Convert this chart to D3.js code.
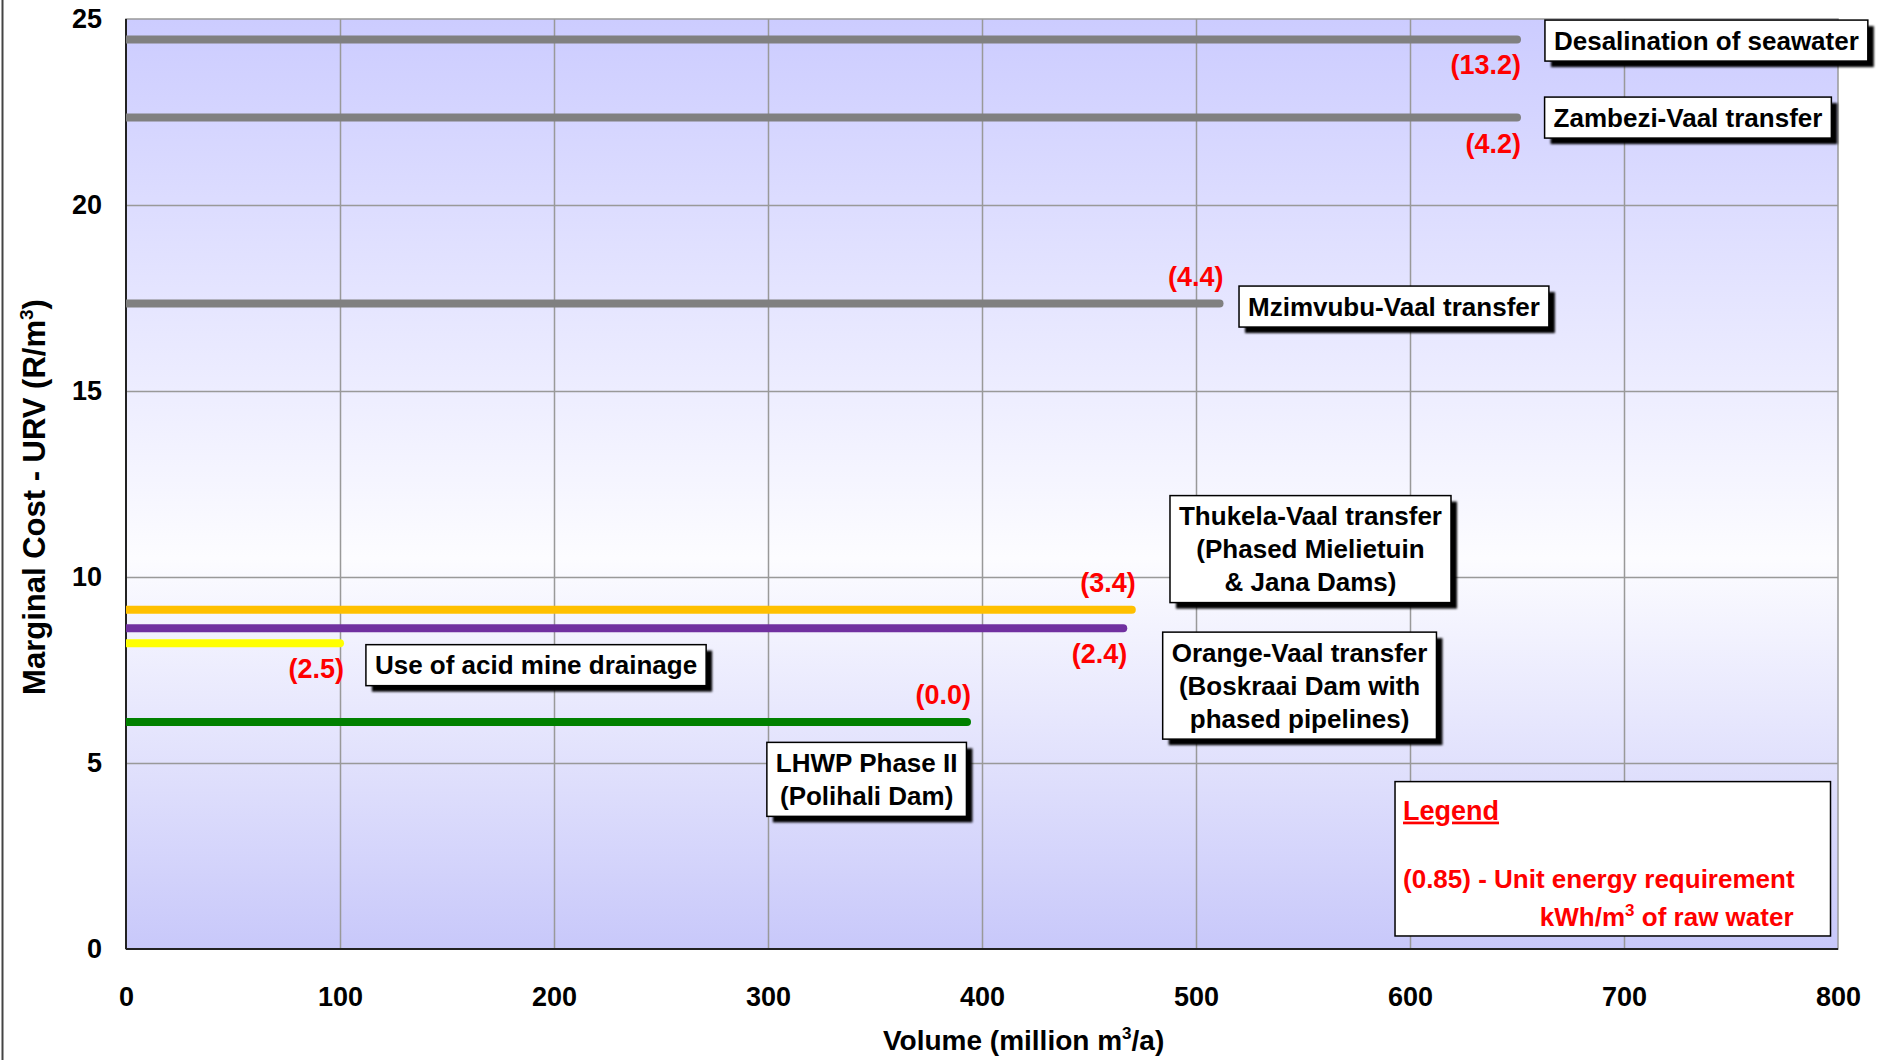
<!DOCTYPE html>
<html lang="en">
<head>
    <meta charset="utf-8"/>
    <title>Marginal cost of water supply options</title>
    <script src="https://d3js.org/d3.v7.min.js"></script>
    <style>
        body { margin: 0; background: #fff; }
        text { font-family: "Liberation Sans", Arial, sans-serif; font-weight: bold; }
        .tick line { stroke: #999; stroke-width: 1.5; }
    </style>
</head>
<body>
<svg id="chart" width="1880" height="1060"></svg>

<script type="text/javascript">

    // datos
    const schemes = [
        ["Desalination of seawater"],
        ["Zambezi-Vaal transfer"],
        ["Mzimvubu-Vaal transfer"],
        ["Thukela-Vaal transfer", "(Phased Mielietuin", "& Jana Dams)"],
        ["Orange-Vaal transfer", "(Boskraai Dam with", "phased pipelines)"],
        ["Use of acid mine drainage"],
        ["LHWP Phase II", "(Polihali Dam)"]
    ];
    const volumes = [650, 650, 511, 470, 466, 100, 393];          // million m3/a
    const costs = [24.45, 22.35, 17.35, 9.12, 8.62, 8.22, 6.1];      // R/m3
    const energy = ["(13.2)", "(4.2)", "(4.4)", "(3.4)", "(2.4)", "(2.5)", "(0.0)"];
    const colors = ["#808080", "#808080", "#808080", "#ffc000", "#7030a0", "#ffff00", "#008000"];

    const xTicks = [0, 100, 200, 300, 400, 500, 600, 700, 800];
    const yTicks = [0, 5, 10, 15, 20, 25];

    // donde van las cajas de texto (en unidades del grafico)
    const boxAt = [[738.5, 24.42], [729.9, 22.35], [592.5, 17.27], [553.5, 10.75],
                   [548.4, 7.08], [191.6, 7.63], [346.1, 4.56]];
    const energyBelow = [true, true, false, false, true, true, false];

    const pLeft = 126, pRight = 1838, pTop = 19, pBottom = 949;

    const svg = d3.select("#chart");

    let x = d3.scaleLinear().domain([0, 800]).range([pLeft, pRight]);
    let y = d3.scaleLinear().domain([0, 25]).range([pBottom, pTop]);

    // fondo degradado
    const defs = svg.append("defs");
    const grad = defs.append("linearGradient")
        .attr("id", "bg").attr("x1", 0).attr("y1", 0).attr("x2", 0).attr("y2", 1);
    grad.append("stop").attr("offset", "0%").attr("stop-color", "#ccccff");
    grad.append("stop").attr("offset", "58%").attr("stop-color", "#fcfcff");
    grad.append("stop").attr("offset", "100%").attr("stop-color", "#c8c8fa");

    defs.append("clipPath").attr("id", "plotClip")
        .append("rect").attr("x", pLeft).attr("y", 0).attr("width", 1880 - pLeft).attr("height", 1060);

    defs.append("filter").attr("id", "blurShadow")
        .append("feGaussianBlur").attr("stdDeviation", 1);

    // marco izquierdo
    svg.append("line")
        .attr("x1", 2.5).attr("x2", 2.5).attr("y1", 0).attr("y2", 1060)
        .attr("stroke", "#444").attr("stroke-width", 2);

    svg.append("rect")
        .attr("x", pLeft).attr("y", pTop)
        .attr("width", pRight - pLeft).attr("height", pBottom - pTop)
        .attr("fill", "url(#bg)")
        .attr("stroke", "#999").attr("stroke-width", 1.5);

    // grilla
    svg.append("g")
        .attr("transform", "translate(0," + pBottom + ")")
        .call(d3.axisBottom(x).tickValues(xTicks.slice(1, -1)).tickSize(-(pBottom - pTop)).tickFormat(""))
        .call(g => g.select(".domain").remove());
    svg.append("g")
        .attr("transform", "translate(" + pLeft + ",0)")
        .call(d3.axisLeft(y).tickValues(yTicks.slice(1, -1)).tickSize(-(pRight - pLeft)).tickFormat(""))
        .call(g => g.select(".domain").remove());

    // ejes
    svg.append("line").attr("x1", pLeft).attr("x2", pLeft).attr("y1", pTop).attr("y2", pBottom)
        .attr("stroke", "#222").attr("stroke-width", 2);
    svg.append("line").attr("x1", pLeft).attr("x2", pRight).attr("y1", pBottom).attr("y2", pBottom)
        .attr("stroke", "#222").attr("stroke-width", 2);

    svg.append("g")
        .attr("transform", "translate(0," + pBottom + ")")
        .call(d3.axisBottom(x).tickValues(xTicks).tickSize(0).tickPadding(38))
        .call(g => g.select(".domain").remove())
        .selectAll("text").attr("font-size", 27).attr("fill", "#000");
    svg.append("g")
        .attr("transform", "translate(" + pLeft + ",0)")
        .call(d3.axisLeft(y).tickValues(yTicks).tickSize(0).tickPadding(24))
        .call(g => g.select(".domain").remove())
        .selectAll("text").attr("font-size", 27).attr("fill", "#000");

    // titulos
    const xt = svg.append("text").attr("x", 883).attr("y", 1050).attr("font-size", 28);
    xt.append("tspan").text("Volume (million  m");
    xt.append("tspan").attr("font-size", 17).attr("dy", -11).text("3");
    xt.append("tspan").attr("dy", 11).text("/a)");

    const yt = svg.append("text")
        .attr("transform", "translate(45,497) rotate(-90)")
        .attr("text-anchor", "middle").attr("font-size", 31);
    yt.append("tspan").text("Marginal Cost - URV (R/m");
    yt.append("tspan").attr("font-size", 19).attr("dy", -12).text("3");
    yt.append("tspan").attr("dy", 12).text(")");

    // lineas
    svg.append("g").attr("clip-path", "url(#plotClip)")
        .selectAll("line").data(volumes).join("line")
        .attr("x1", x(0) - 10)
        .attr("x2", d => x(d))
        .attr("y1", (d, i) => y(costs[i]))
        .attr("y2", (d, i) => y(costs[i]))
        .attr("stroke", (d, i) => colors[i])
        .attr("stroke-width", 8)
        .attr("stroke-linecap", "round");

    // energia unitaria
    svg.append("g").selectAll("text").data(energy).join("text")
        .attr("x", (d, i) => x(volumes[i]) + 4)
        .attr("y", (d, i) => y(costs[i]) + (energyBelow[i] ? 35 : -18))
        .attr("text-anchor", "end")
        .attr("font-size", 27)
        .attr("fill", "#ff0000")
        .text(d => d);

    // cajas con nombres
    const lineH = 33;
    schemes.forEach(function (lines, i) {
        const cx = x(boxAt[i][0]), cy = y(boxAt[i][1]);
        const g = svg.append("g");
        const shadow = g.append("rect").attr("fill", "#000").attr("filter", "url(#blurShadow)");
        const box = g.append("rect").attr("fill", "#fff").attr("stroke", "#000").attr("stroke-width", 1.5);
        const t = g.append("text").attr("text-anchor", "middle").attr("font-size", 26);
        lines.forEach(function (s, k) {
            t.append("tspan")
                .attr("x", cx)
                .attr("y", cy + (k - (lines.length - 1) / 2) * lineH + 9)
                .text(s);
        });
        const bb = t.node().getBBox();
        const w = bb.width + 18, h = lines.length * lineH + 8;
        box.attr("x", cx - w / 2).attr("y", cy - h / 2).attr("width", w).attr("height", h);
        shadow.attr("x", cx - w / 2 + 6).attr("y", cy - h / 2 + 6).attr("width", w).attr("height", h);
    });

    // leyenda
    const lg = svg.append("g");
    const lx0 = x(593), lx1 = x(796.5), ly0 = y(4.5), ly1 = y(0.35);
    lg.append("rect")
        .attr("x", lx0).attr("y", ly0).attr("width", lx1 - lx0).attr("height", ly1 - ly0)
        .attr("fill", "#fff").attr("stroke", "#000").attr("stroke-width", 1.5);
    lg.append("text")
        .attr("x", lx0 + 8).attr("y", ly0 + 38)
        .attr("font-family", "Lato").attr("font-size", 27).attr("fill", "#ff0000")
        .attr("text-decoration", "underline")
        .text("Legend");
    lg.append("text")
        .attr("x", lx0 + 8).attr("y", ly0 + 106)
        .attr("font-family", "Lato").attr("font-size", 26).attr("fill", "#ff0000")
        .text("(0.85) - Unit energy requirement");
    const l2 = lg.append("text")
        .attr("x", lx1 - 37).attr("y", ly0 + 144)
        .attr("text-anchor", "end")
        .attr("font-family", "Lato").attr("font-size", 26).attr("fill", "#ff0000");
    l2.append("tspan").text("kWh/m");
    l2.append("tspan").attr("font-size", 17).attr("dy", -10).text("3");
    l2.append("tspan").attr("dy", 10).text(" of raw water");

</script>
</body>
</html>
